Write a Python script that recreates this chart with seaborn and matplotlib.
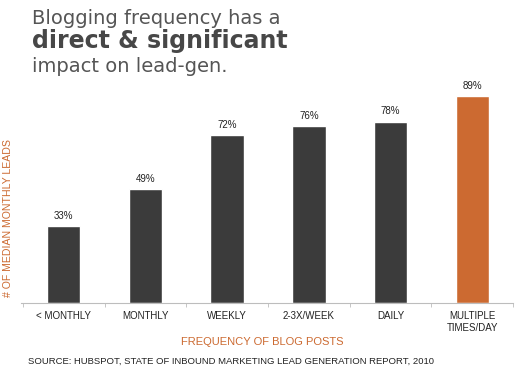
"""Blogging frequency vs. median monthly leads (HubSpot 2010)."""

import pandas as pd
import seaborn as sns
import matplotlib.pyplot as plt
from matplotlib.ticker import FixedLocator

frequency = ["< MONTHLY", "MONTHLY", "WEEKLY", "2-3X/WEEK", "DAILY",
             "MULTIPLE\nTIMES/DAY"]
leads_pct = [33, 49, 72, 76, 78, 89]

DARK = "#3b3b3b"
ORANGE = "#cc6a31"
bar_colors = [DARK] * 5 + [ORANGE]

sns.set_theme(style="white")
plt.rcParams["font.family"] = ["Liberation Sans", "DejaVu Sans"]

df = pd.DataFrame({"frequency": frequency, "pct": leads_pct})

fig = plt.figure(figsize=(5.29, 3.76), dpi=100)
ax = fig.add_axes([0.040, 0.194, 0.930, 0.619])

sns.barplot(data=df, x="frequency", y="pct", hue="frequency",
            palette=bar_colors, legend=False, width=0.41, saturation=1,
            ax=ax)

for p, v in zip(ax.patches, leads_pct):
    ax.text(p.get_x() + p.get_width() / 2, v + 2.2, f"{v}%",
            ha="center", va="bottom", fontsize=7, color="#222222")

ax.set_ylim(0, 100)
ax.set_xlim(-0.52, 5.5)
ax.set_yticks([])
for s in ["top", "right", "left"]:
    ax.spines[s].set_visible(False)
ax.spines["bottom"].set_color("#bdbdbd")
ax.spines["bottom"].set_linewidth(0.8)

ax.tick_params(axis="x", which="major", length=0, pad=6,
               labelsize=7, labelcolor="#222222")
ax.xaxis.set_minor_locator(FixedLocator([i - 0.5 for i in range(7)]))
ax.tick_params(axis="x", which="minor", length=3, width=0.6,
               color="#bdbdbd", bottom=True)
ax.set_xlabel("FREQUENCY OF BLOG POSTS", color=ORANGE, fontsize=8)
ax.xaxis.set_label_coords(0.49, -0.145)
ax.set_ylabel("# OF MEDIAN MONTHLY LEADS", color=ORANGE, fontsize=7.6)
ax.yaxis.set_label_coords(-0.017, 0.365)

title_font = ["DejaVu Sans"]
fig.text(0.060, 0.952, "Blogging frequency has a", fontsize=14,
         color="#555555", family=title_font, va="center")
fig.text(0.060, 0.890, "direct & significant", fontsize=17,
         weight="bold", color="#474747", family=title_font, va="center")
fig.text(0.060, 0.822, "impact on lead-gen.", fontsize=14,
         color="#555555", family=title_font, va="center")

fig.text(0.053, 0.040, "SOURCE: HUBSPOT, STATE OF INBOUND MARKETING LEAD "
         "GENERATION REPORT, 2010", fontsize=6.8, color="#222222",
         va="center")

fig.savefig("out.png", dpi=100)
